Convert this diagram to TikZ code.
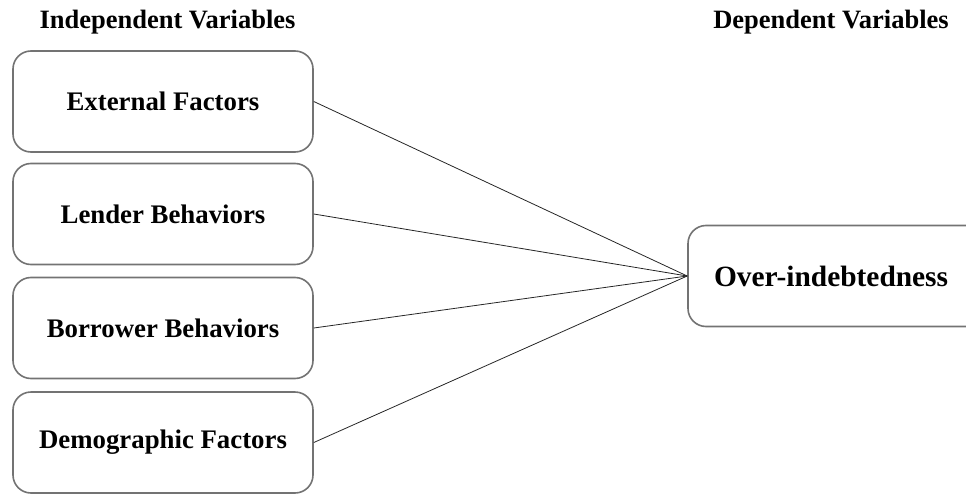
\documentclass[tikz,border=0pt]{standalone}
\usepackage{fontspec}
\setmainfont{Liberation Serif}
\begin{document}
\begin{tikzpicture}[x=1pt, y=-1pt,
    varbox/.style={draw=black!55, line width=1.6pt, rounded corners=18pt,
      minimum width=300pt, minimum height=101pt, inner sep=0pt,
      font=\fontsize{26.8}{30}\selectfont\bfseries},
    heading/.style={anchor=base, inner sep=0pt,
      font=\fontsize{26.5}{30}\selectfont\bfseries},
    link/.style={black!85, line width=0.8pt}]
    % Page frame
    \useasboundingbox (0,0) rectangle (966,495);

    % Column headings
    \node[heading] (indep) at (167.5,29) {Independent Variables};
    \node[heading] (dep) at (831,29) {Dependent Variables};

    % Independent variables
    \node[varbox] (ext)  at (163,101.5) {External Factors};
    \node[varbox] (lend) at (163,214)   {Lender Behaviors};
    \node[varbox] (borr) at (163,328)   {Borrower Behaviors};
    \node[varbox] (demo) at (163,442.5) {Demographic Factors};

    % Dependent variable (runs past the page edge)
    \node[varbox, minimum width=310pt, text width=258pt, align=flush left,
      font=\fontsize{29.4}{32}\selectfont\bfseries]
      (over) at (843,276) {Over-indebtedness};

    % Links
    \foreach \v in {ext,lend,borr,demo}
      \draw[link] (\v.east) -- (over.west);
\end{tikzpicture}
\end{document}
